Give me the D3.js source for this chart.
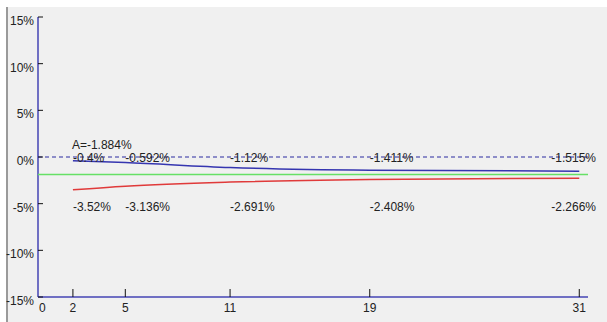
<!DOCTYPE html>
<html lang="en">
<head>
<meta charset="UTF-8">
<title>Range chart</title>
<script src="https://d3js.org/d3.v7.min.js"></script>
<style>
    body { margin: 0; padding: 0; background: #ffffff; }
    svg { display: block; font-family: "Liberation Sans", Arial, sans-serif; }
    .lbl { font-size: 12px; fill: #222; }
</style>
</head>
<body>
<svg width="607" height="322"></svg>
<script>
const days = [2, 5, 11, 19, 31];
const upper = [-0.4, -0.592, -1.12, -1.411, -1.515];
const lower = [-3.52, -3.136, -2.691, -2.408, -2.266];
const average = -1.884;
const yTicks = [15, 10, 5, 0, -5, -10, -15];
const xTicks = [0, 2, 5, 11, 19, 31];

const svg = d3.select("svg");
const width = 607, height = 322;

const x = d3.scaleLinear().domain([0, 31.5]).range([38, 588]);
const y = d3.scaleLinear().domain([-15, 15]).range([297, 17]);

// panel
svg.append("rect").attr("x", 7).attr("y", 7).attr("width", width - 7).attr("height", height - 7)
   .attr("fill", "#f0f0f0");
svg.append("line").attr("x1", 7).attr("x2", 7).attr("y1", 7).attr("y2", height)
   .attr("stroke", "#9a9a9a").attr("stroke-width", 2);

// zero line
svg.append("line")
   .attr("x1", x(0)).attr("x2", x(31.5))
   .attr("y1", y(0)).attr("y2", y(0))
   .attr("stroke", "#2a2aa0").attr("stroke-width", 1)
   .attr("stroke-dasharray", "4,3");

// axes
svg.append("line").attr("x1", x(0)).attr("x2", x(0)).attr("y1", y(15)).attr("y2", y(-15))
   .attr("stroke", "#4545b5").attr("stroke-width", 1.5);
svg.append("line").attr("x1", x(0)).attr("x2", x(31.5)).attr("y1", y(-15)).attr("y2", y(-15))
   .attr("stroke", "#4545b5").attr("stroke-width", 1.5);

svg.selectAll(".ytick").data(yTicks).enter().append("line")
   .attr("x1", x(0)).attr("x2", x(0) + 5)
   .attr("y1", d => y(d)).attr("y2", d => y(d))
   .attr("stroke", "#111");
svg.selectAll(".ylab").data(yTicks).enter().append("text")
   .attr("class", "lbl")
   .attr("x", 34).attr("y", d => y(d) + 8)
   .attr("text-anchor", "end")
   .text(d => d + "%");

svg.selectAll(".xtick").data(xTicks.filter(d => d > 0)).enter().append("line")
   .attr("x1", d => x(d)).attr("x2", d => x(d))
   .attr("y1", y(-15) - 8).attr("y2", y(-15))
   .attr("stroke", "#111");
svg.selectAll(".xlab").data(xTicks).enter().append("text")
   .attr("class", "lbl")
   .attr("x", d => d === 0 ? x(d) + 1 : x(d))
   .attr("y", 312)
   .attr("text-anchor", d => d === 0 ? "start" : "middle")
   .text(d => d);

// series
const line = d3.line().x(d => x(d[0])).y(d => y(d[1])).curve(d3.curveMonotoneX);
svg.append("path").datum(days.map((d, i) => [d, lower[i]]))
   .attr("d", line).attr("fill", "none").attr("stroke", "#e03a3a").attr("stroke-width", 1.5);
svg.append("path").datum(days.map((d, i) => [d, upper[i]]))
   .attr("d", line).attr("fill", "none").attr("stroke", "#3535b0").attr("stroke-width", 1.5);
svg.append("line")
   .attr("x1", x(0)).attr("x2", x(31.5))
   .attr("y1", y(average)).attr("y2", y(average))
   .attr("stroke", "#66e066").attr("stroke-width", 1.5);

// labels
const last = days.length - 1;
svg.append("text").attr("class", "lbl")
   .attr("x", x(days[0]) - 1).attr("y", 149)
   .text("A=" + average + "%");
svg.selectAll(".ulab").data(days).enter().append("text")
   .attr("class", "lbl")
   .attr("x", (d, i) => i === last ? 596 : x(d))
   .attr("y", 162)
   .attr("text-anchor", (d, i) => i === last ? "end" : "start")
   .text((d, i) => upper[i] + "%");
svg.selectAll(".llab").data(days).enter().append("text")
   .attr("class", "lbl")
   .attr("x", (d, i) => i === last ? 596 : x(d))
   .attr("y", 211)
   .attr("text-anchor", (d, i) => i === last ? "end" : "start")
   .text((d, i) => lower[i] + "%");
</script>
</body>
</html>
